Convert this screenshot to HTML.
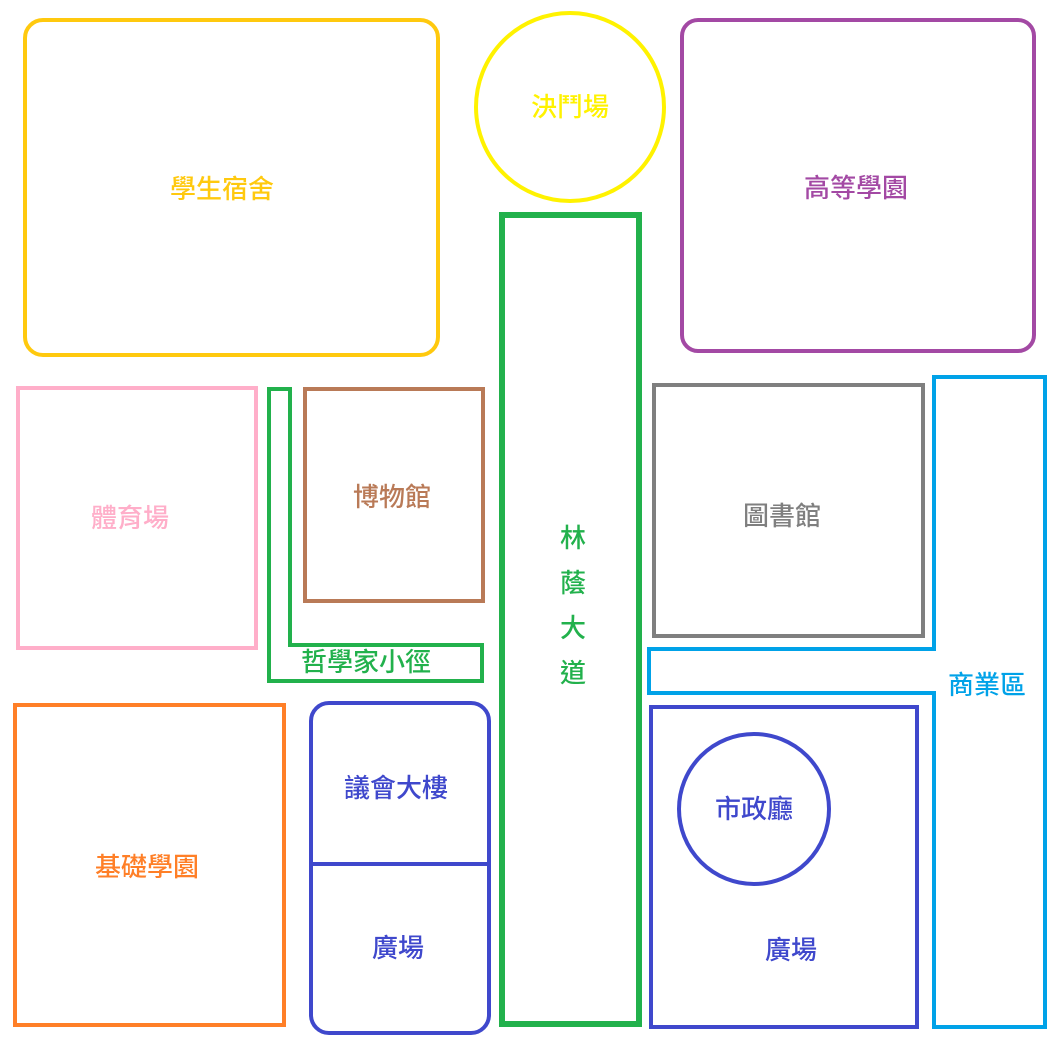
<!DOCTYPE html>
<html><head><meta charset="utf-8"><style>
html,body{margin:0;padding:0;background:#fff;}
svg text{font-family:"Liberation Sans","Noto Sans CJK TC",sans-serif;font-size:26px;font-weight:500;text-anchor:middle;dominant-baseline:central;}
</style></head><body>
<svg width="1056" height="1058" viewBox="0 0 1056 1058" xmlns="http://www.w3.org/2000/svg">
<g fill="none" stroke-width="4">
<rect x="25" y="20" width="413" height="335" rx="18" stroke="#FFC90E"/>
<circle cx="570" cy="107" r="94" stroke="#FFF200"/>
<rect x="682" y="20" width="352" height="331" rx="16" stroke="#A349A4"/>
<rect x="502" y="215" width="137" height="809" stroke="#22B14C" stroke-width="6"/>
<rect x="18" y="388" width="238" height="260" stroke="#FFAEC9"/>
<polygon points="269,389 290,389 290,645 482,645 482,681 269,681" stroke="#22B14C"/>
<rect x="305" y="389" width="178" height="212" stroke="#B97A57"/>
<rect x="654" y="385" width="269" height="251" stroke="#7F7F7F"/>
<polygon points="934,377 1045,377 1045,1027 934,1027 934,693 649,693 649,649 934,649" stroke="#00A2E8"/>
<rect x="15" y="705" width="269" height="320" stroke="#FF7F27"/>
<rect x="311" y="703" width="178" height="330" rx="18" stroke="#3F48CC"/>
<line x1="311" y1="864" x2="489" y2="864" stroke="#3F48CC"/>
<rect x="651" y="707" width="266" height="320" stroke="#3F48CC"/>
<circle cx="754" cy="809" r="75" stroke="#3F48CC"/>
</g>
<text x="222" y="189" fill="#FFC90E">學生宿舍</text>
<text x="570" y="107" fill="#FFF200">決鬥場</text>
<text x="856" y="188" fill="#A349A4">高等學園</text>
<text x="573" y="538" fill="#22B14C">林</text>
<text x="573" y="583" fill="#22B14C">蔭</text>
<text x="573" y="628" fill="#22B14C">大</text>
<text x="573" y="673" fill="#22B14C">道</text>
<text x="130" y="518" fill="#FFAEC9">體育場</text>
<text x="366" y="662" fill="#22B14C">哲學家小徑</text>
<text x="392" y="497" fill="#B97A57">博物館</text>
<text x="782" y="516" fill="#7F7F7F">圖書館</text>
<text x="987" y="685" fill="#00A2E8">商業區</text>
<text x="147" y="867" fill="#FF7F27">基礎學園</text>
<text x="396" y="788" fill="#3F48CC">議會大樓</text>
<text x="398" y="948" fill="#3F48CC">廣場</text>
<text x="754" y="809" fill="#3F48CC">市政廳</text>
<text x="791" y="950" fill="#3F48CC">廣場</text>
</svg>
</body></html>
